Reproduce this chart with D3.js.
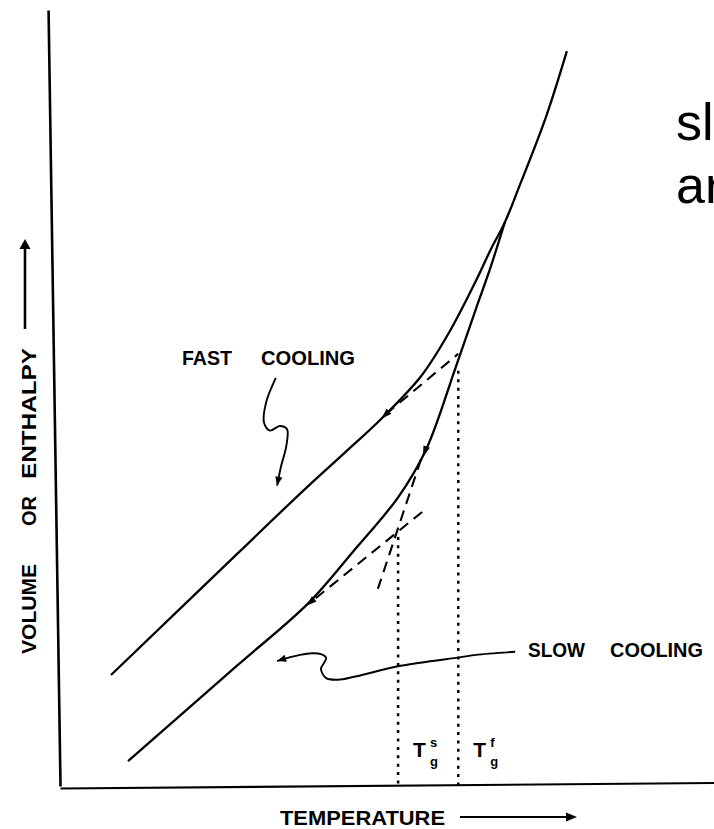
<!DOCTYPE html>
<html><head><meta charset="utf-8">
<script src="https://cdn.jsdelivr.net/npm/d3@7"></script>
<style>html,body{margin:0;padding:0;background:#fff;overflow:hidden}</style>
</head><body>
<svg id="c" width="714" height="829"></svg>
<script>
// ---------- data (temperature, volume) in arbitrary units 0..100 ----------
const xLabel = "TEMPERATURE";
const yLabelWords = ["VOLUME", "OR", "ENTHALPY"];
const curveLabels = [["FAST", "COOLING"], ["SLOW", "COOLING"]];
const slideText = ["sl", "ar"];

const fastCooling = [[7.8,14.3],[27.2,30.0],[37.5,38.3],[43.6,43.0],[49.1,47.3],[55.2,52.8],[59.6,58.6],[63.6,65.1],[65.9,69.2],[68.0,72.6],[70.2,77.2],[74.3,86.2],[77.5,94.7]];
const slowCooling = [[10.4,3.2],[27.2,15.6],[37.9,23.5],[44.8,30.2],[51.7,37.2],[56.0,43.4],[60.4,53.7],[63.6,61.5],[65.7,66.5],[68.0,72.6]];

const fastGlassExt  = [[49.8,47.9],[60.9,55.7]];
const liquidExt     = [[55.2,42.1],[48.6,25.4]];
const slowGlassExt  = [[39.1,24.2],[55.8,35.6]];

const tgNames  = ["s", "f"];
const tgTemps  = [51.7, 60.9];
const tgTops   = [32.1, 53.5];

const fastLeader = [[33.0,52.6],[31.5,49.4],[31.2,46.8],[32.1,45.8],[33.6,46.4],[34.7,46.0],[34.6,43.8],[33.8,41.2],[33.2,38.7]];
const slowLeader = [[69.6,17.3],[63.6,16.9],[61.3,16.6],[52.1,15.5],[42.5,13.7],[40.7,13.9],[39.9,15.1],[40.4,15.9],[40.7,16.5],[39.9,17.0],[38.5,17.1],[36.7,16.9],[35.2,16.6],[33.2,16.1]];

// arrowheads: [tip, point behind tip]
const curveArrows  = [[[49.1,47.3],[50.8,48.7]], [[37.6,23.2],[39.4,24.5]], [[55.5,42.4],[56.3,44.3]]];
const leaderArrows = [[[33.2,38.7],[33.5,40.0]], [[33.2,16.1],[35.0,16.6]]];

// ---------- drawing ----------
const svg = d3.select("#c");
const FONT = "'Liberation Sans', Arial, sans-serif";
const x = d3.scaleLinear().domain([0,100]).range([60,714]);
const y = d3.scaleLinear().domain([0,100]).range([786,10]);
const smooth = d3.line().x(d=>x(d[0])).y(d=>y(d[1])).curve(d3.curveCatmullRom.alpha(0.5));
const straight = d3.line().x(d=>x(d[0])).y(d=>y(d[1]));

// axes (no ticks)
const gy = svg.append("g").attr("transform","translate(47.9,0) skewX(0.883)")
  .call(d3.axisLeft(y).tickValues([]).tickSizeOuter(0));
gy.select(".domain").attr("stroke","#000").attr("stroke-width",2.6);
const gx = svg.append("g").attr("transform","translate(0,788) rotate(-0.48,60,0)")
  .call(d3.axisBottom(x).tickValues([]).tickSizeOuter(0));
gx.select(".domain").attr("stroke","#000").attr("stroke-width",2.2);

// curves
[fastCooling, slowCooling].forEach(c=>{
  svg.append("path").attr("d",smooth(c)).attr("fill","none").attr("stroke","#000").attr("stroke-width",2.3);
});
// dashed extrapolations
[fastGlassExt, liquidExt, slowGlassExt].forEach(c=>{
  svg.append("path").attr("d",straight(c)).attr("fill","none").attr("stroke","#000")
    .attr("stroke-width",2.1).attr("stroke-dasharray","11,7");
});
// dotted Tg verticals
tgTemps.forEach((t,i)=>{
  svg.append("path").attr("d",straight([[t,tgTops[i]],[t,0]])).attr("fill","none").attr("stroke","#000")
    .attr("stroke-width",2.5).attr("stroke-dasharray","3,5.4");
});
// leaders
[fastLeader, slowLeader].forEach(c=>{
  svg.append("path").attr("d",smooth(c)).attr("fill","none").attr("stroke","#000").attr("stroke-width",1.9);
});

function arrowHead(tip, back, len, half){
  const p=[x(tip[0]),y(tip[1])], q=[x(back[0]),y(back[1])];
  let ux=p[0]-q[0], uy=p[1]-q[1]; const L=Math.hypot(ux,uy); ux/=L; uy/=L;
  const bx=p[0]-ux*len, by=p[1]-uy*len, nx=-uy, ny=ux;
  svg.append("path").attr("d",`M${p[0]},${p[1]}L${bx+nx*half},${by+ny*half}L${bx-nx*half},${by-ny*half}Z`).attr("fill","#000");
}
curveArrows.forEach(a=>arrowHead(a[0],a[1],11,3.4));
leaderArrows.forEach(a=>arrowHead(a[0],a[1],9,3.6));

// text helpers
function label(txt, px, py, len, extra){
  const t = svg.append("text").attr("x",px).attr("y",py).text(txt)
    .attr("font-family",FONT).attr("font-size",20).attr("font-weight","bold").attr("fill","#000");
  if(len) t.attr("textLength",len).attr("lengthAdjust","spacingAndGlyphs");
  if(extra) extra(t);
  return t;
}
// curve labels
label(curveLabels[0][0],182,365,50);
label(curveLabels[0][1],261,365,94);
label(curveLabels[1][0],528,657,57);
label(curveLabels[1][1],610,657,93);

// Tg labels
tgTemps.forEach((t,i)=>{
  const px = x(t)+15;
  label("T",px,757).attr("font-size",21);
  svg.append("text").attr("x",px+17).attr("y",747).text(tgNames[i]).attr("font-family",FONT).attr("font-size",13).attr("font-weight","bold").attr("fill","#000");
  svg.append("text").attr("x",px+17).attr("y",766).text("g").attr("font-family",FONT).attr("font-size",13).attr("font-weight","bold").attr("fill","#000");
});

// x label + arrow
label(xLabel,280,825,165);
svg.append("line").attr("x1",460).attr("y1",817).attr("x2",568).attr("y2",817).attr("stroke","#000").attr("stroke-width",2.2);
svg.append("path").attr("d","M577,817L566,812.5L566,821.5Z").attr("fill","#000");

// y label (rotated) + arrow
const yStarts=[654,526,479], yLens=[90,null,131];
yLabelWords.forEach((w,i)=>{
  label(w,0,0,yLens[i],t=>t.attr("transform",`translate(36,${yStarts[i]}) rotate(-90)`));
});
svg.append("line").attr("x1",25).attr("y1",329).attr("x2",25).attr("y2",248).attr("stroke","#000").attr("stroke-width",2.6);
svg.append("path").attr("d","M25,239L19.5,249L30.5,249Z").attr("fill","#000");

// slide text fragment at top right
slideText.forEach((s,i)=>{
  svg.append("text").attr("x",676).attr("y",[140,203][i]).text(s)
    .attr("font-family",FONT).attr("font-size",52).attr("fill","#000");
});
</script>
</body></html>
